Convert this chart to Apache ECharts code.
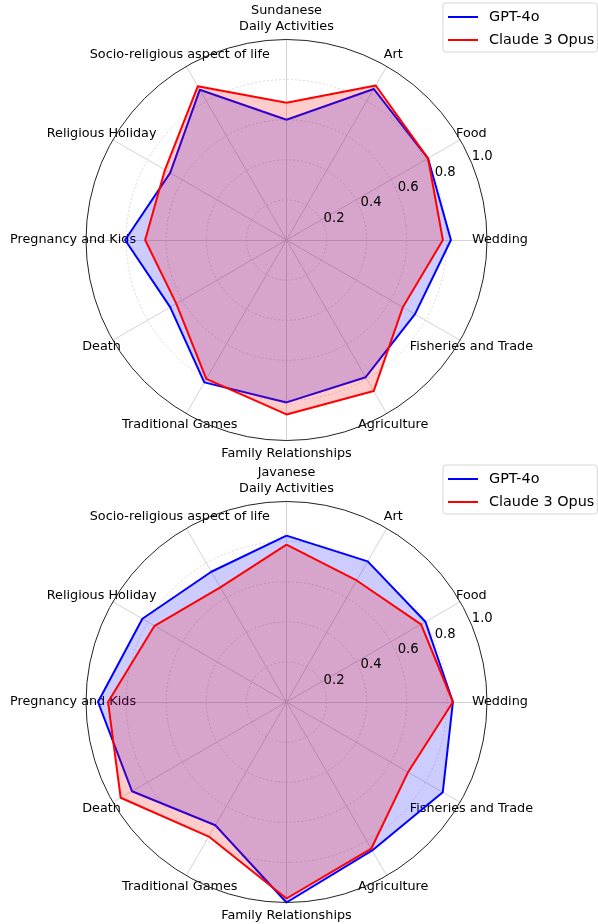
<!DOCTYPE html>
<html lang="en">
<head>
    <meta charset="UTF-8">
    <title>Radar</title>
    <script src="https://cdn.jsdelivr.net/npm/echarts@6/dist/echarts.min.js"></script>
    <style>
        html,body{
            margin:0;
            padding:0;
            background:#fff;
        }
        #chart{
            width:598px;
            height:924px;
        }
    </style>
</head>
<body>
<div id="chart"></div>
<script>
    // clockwise from the top
    var categories = ['Daily Activities', 'Art', 'Food', 'Wedding', 'Fisheries and Trade', 'Agriculture',
        'Family Relationships', 'Traditional Games', 'Death', 'Pregnancy and Kids', 'Religious Holiday',
        'Socio-religious aspect of life'];
    var sundaneseGpt = [0.60, 0.87, 0.815, 0.82, 0.74, 0.79, 0.81, 0.82, 0.67, 0.805, 0.67, 0.865];
    var sundaneseClaude = [0.685, 0.89, 0.815, 0.78, 0.67, 0.87, 0.87, 0.80, 0.635, 0.705, 0.70, 0.885];
    var javaneseGpt = [0.83, 0.81, 0.80, 0.83, 0.90, 0.855, 1.0, 0.71, 0.89, 0.94, 0.83, 0.75];
    var javaneseClaude = [0.785, 0.70, 0.775, 0.83, 0.70, 0.845, 0.98, 0.775, 0.955, 0.89, 0.76, 0.66];
    var rTicks = [0.2, 0.4, 0.6, 0.8, 1.0];

    var font = 'DejaVu Sans';
    var R = 200.5;
    var cx = 286.5;

    // echarts radar goes counter-clockwise, so flip the order after the first one
    function flip(arr) {
        return [arr[0]].concat(arr.slice(1).reverse());
    }

    function mainRadar(cy) {
        return {
            center: [cx, cy],
            radius: R,
            startAngle: 90,
            shape: 'circle',
            splitNumber: rTicks.length,
            indicator: flip(categories).map(function (c) {
                return {name: c, min: 0, max: rTicks[rTicks.length - 1]};
            }),
            axisName: {
                color: '#000',
                fontFamily: font,
                fontSize: 12.8,
                align: 'center',
                verticalAlign: 'middle'
            },
            nameGap: 13,
            axisLine: {lineStyle: {color: '#c8c8c8', width: 0.8}},
            splitLine: {
                lineStyle: {
                    color: ['transparent', '#cfcfcf', '#cfcfcf', '#cfcfcf', '#cfcfcf', 'transparent'],
                    type: [2, 2],
                    width: 0.8
                }
            },
            splitArea: {show: false}
        };
    }

    // outer spine + radial tick labels at 22.5 deg
    function tickRadar(cy) {
        return {
            z: 3,
            center: [cx, cy],
            radius: R,
            startAngle: 22.5,
            shape: 'circle',
            splitNumber: rTicks.length,
            indicator: [{name: '', min: 0, max: rTicks[rTicks.length - 1]}],
            axisName: {show: false},
            axisLine: {show: false},
            axisTick: {show: false},
            axisLabel: {
                show: true,
                margin: 0,
                color: '#000',
                fontFamily: font,
                fontSize: 13.2,
                align: 'left',
                verticalAlign: 'bottom',
                formatter: function (v) {
                    return v === 0 ? '' : v.toFixed(1);
                }
            },
            splitLine: {
                lineStyle: {
                    color: ['transparent', 'transparent', 'transparent', 'transparent', 'transparent', '#222'],
                    width: 1
                }
            },
            splitArea: {show: false}
        };
    }

    function legend(top) {
        return {
            orient: 'vertical',
            left: 443,
            top: top,
            data: ['GPT-4o', 'Claude 3 Opus'],
            icon: 'rect',
            itemWidth: 30,
            itemHeight: 2,
            itemGap: 7,
            padding: [6, 3, 4, 5],
            borderColor: '#d5d5d5',
            borderWidth: 1,
            borderRadius: 3,
            backgroundColor: 'rgba(255,255,255,0.8)',
            textStyle: {
                color: '#000',
                fontFamily: font,
                fontSize: 14.4,
                lineHeight: 16,
                padding: [0, 0, 0, 6]
            }
        };
    }

    function series(name, radarIndex, values, color) {
        return {
            name: name,
            type: 'radar',
            radarIndex: radarIndex,
            symbol: 'none',
            itemStyle: {color: color},
            lineStyle: {color: color, width: 2},
            areaStyle: {color: color, opacity: 0.2},
            data: [{name: name, value: flip(values)}]
        };
    }

    var option = {
        animation: false,
        title: [
            {
                text: 'Sundanese', left: cx, top: 4, padding: 0, textAlign: 'center',
                textStyle: {color: '#000', fontFamily: font, fontSize: 12.8, fontWeight: 'normal'}
            },
            {
                text: 'Javanese', left: cx, top: 466, padding: 0, textAlign: 'center',
                textStyle: {color: '#000', fontFamily: font, fontSize: 12.8, fontWeight: 'normal'}
            }
        ],
        legend: [legend(3), legend(465)],
        radar: [mainRadar(240), tickRadar(240), mainRadar(702), tickRadar(702)],
        series: [
            series('GPT-4o', 0, sundaneseGpt, '#0000ff'),
            series('Claude 3 Opus', 0, sundaneseClaude, '#ff0000'),
            series('GPT-4o', 2, javaneseGpt, '#0000ff'),
            series('Claude 3 Opus', 2, javaneseClaude, '#ff0000')
        ]
    };
    var myChart = echarts.init(document.getElementById('chart'));
    myChart.setOption(option);
</script>
</body>
</html>
